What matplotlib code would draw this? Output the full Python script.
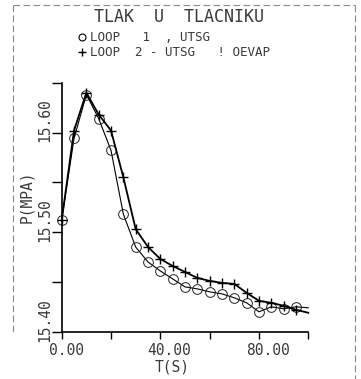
import matplotlib
matplotlib.use('Agg')
import matplotlib.pyplot as plt
from matplotlib.lines import Line2D
from matplotlib.transforms import ScaledTranslation

# time (s) and pressure (MPa)
t = [0, 5, 10, 15, 20, 25, 30, 35, 40, 45, 50,
     55, 60, 65, 70, 75, 80, 85, 90, 95, 100]
p_loop1 = [15.512, 15.594, 15.638, 15.614, 15.582, 15.518, 15.485, 15.470, 15.461, 15.453, 15.445,
           15.443, 15.440, 15.438, 15.434, 15.429, 15.420, 15.425, 15.423, 15.425, 15.424]
p_loop2 = [15.512, 15.602, 15.640, 15.618, 15.602, 15.555, 15.503, 15.485, 15.473, 15.466, 15.460,
           15.454, 15.451, 15.449, 15.448, 15.439, 15.431, 15.429, 15.426, 15.422, 15.419]

xticks = [0, 20, 40, 60, 80, 100]
xtick_labels = {0: '0.00', 40: '40.00', 80: '80.00'}
yticks = [15.40, 15.45, 15.50, 15.55, 15.60, 15.65]
ytick_labels = {15.40: '15.40', 15.50: '15.50', 15.60: '15.60'}

title = 'TLAK  U  TLACNIKU'
labels = ['LOOP   1  , UTSG', 'LOOP  2 - UTSG   ! OEVAP']

MONO = 'DejaVu Sans Mono'
TXT = '#3a3a3a'
W, H = 361, 379

fig = plt.figure(figsize=(W / 100, H / 100), dpi=100)
ax = fig.add_axes([61.7 / W, 1 - 331.7 / H, 246.6 / W, 249.0 / H])

ax.plot(t, p_loop1, color='black', lw=0.8, marker='o', ms=7, mfc='none', mec='#222222',
        mew=0.7, markevery=range(20), clip_on=False)
ax.plot(t, p_loop2, color='black', lw=1.3, marker='+', ms=7, mew=1.0,
        markevery=range(20), clip_on=False)

ax.set_xlim(0, 100)
ax.set_ylim(15.40, 15.65)
ax.set_xticks(xticks)
ax.set_yticks(yticks)
ax.tick_params(labelbottom=False, labelleft=False, direction='out')
ax.tick_params(axis='y', length=7, width=1.0)
ax.tick_params(axis='x', length=5, width=1.0)
for s in ['top', 'right']:
    ax.spines[s].set_visible(False)
for s in ['left', 'bottom']:
    ax.spines[s].set_linewidth(1.2)

# tick labels in the plotter style
ydown = ScaledTranslation(0, -0.10, fig.dpi_scale_trans)
for v, lab in ytick_labels.items():
    ax.text(-0.0677, v, lab, transform=ax.get_yaxis_transform() + ydown,
            rotation=90, ha='center', va='bottom', family=MONO, fontsize=10.5, color=TXT)
xleft = ScaledTranslation(-0.13, 0, fig.dpi_scale_trans)
for v, lab in xtick_labels.items():
    ax.text(v, -0.0735, lab, transform=ax.get_xaxis_transform() + xleft,
            ha='left', va='center', family=MONO, fontsize=10.5, color=TXT)

fig.text(172 / W, 1 - 367 / H, 'T(S)', ha='center', va='center',
         family=MONO, fontsize=10.5, color=TXT)
fig.text(27 / W, 1 - 197 / H, 'P(MPA)', ha='center', va='center', rotation=90,
         family=MONO, fontsize=10.5, color=TXT)
fig.text(179 / W, 1 - 17.5 / H, title, ha='center', va='center',
         family=MONO, fontsize=12, color=TXT)

handles = [Line2D([], [], ls='none', marker='o', ms=5, mfc='none', mec='black', mew=0.8),
           Line2D([], [], ls='none', marker='+', ms=6, mew=1.0, color='black')]
leg = ax.legend(handles, labels, loc='upper left', bbox_to_anchor=(79 / W, 1 - 31 / H),
                bbox_transform=fig.transFigure, frameon=False, borderpad=0, borderaxespad=0,
                handlelength=0.5, handletextpad=0.35, labelspacing=0.15,
                prop={'family': MONO, 'size': 9})
for txt in leg.get_texts():
    txt.set_color(TXT)

# faint border of the scanned page
for xs, ys in [([13, 13], [5, 335]), ([13, 355], [5, 5]), ([355, 355], [5, 379])]:
    fig.add_artist(Line2D([x / W for x in xs], [1 - y / H for y in ys],
                          transform=fig.transFigure, color='#888888', lw=0.8,
                          linestyle=(0, (6, 3))))

fig.savefig('out.png', dpi=100)
